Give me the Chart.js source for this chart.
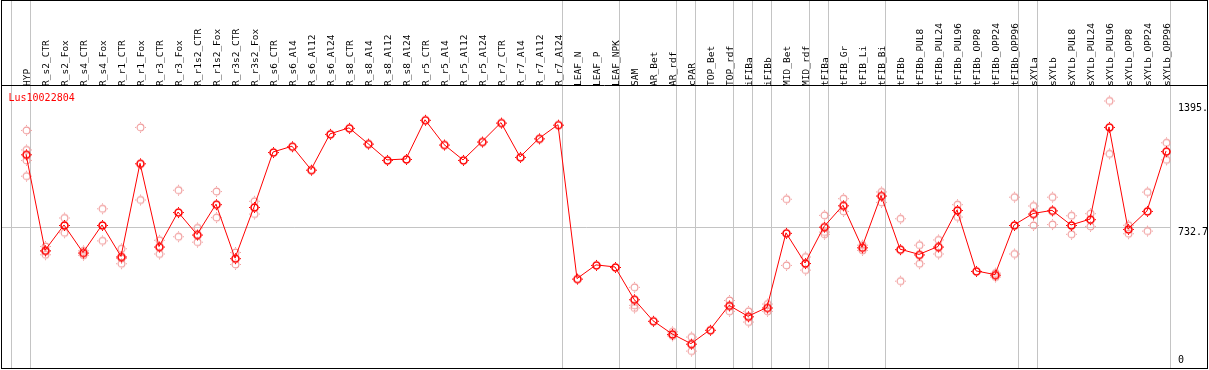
<!DOCTYPE html>
<html><head><meta charset="utf-8">
<script src="https://cdn.jsdelivr.net/npm/chart.js@4"></script>
<style>html,body{margin:0;padding:0;background:#fff}#wrap{width:1209px;height:370px;position:relative}</style>
</head><body><div id="wrap"><canvas id="c" width="1209" height="370"></canvas></div>
<script>
const _ = null;
const geneName = 'Lus10022804';
const categories = ['HYP','R_s2_CTR','R_s2_Fox','R_s4_CTR','R_s4_Fox','R_r1_CTR','R_r1_Fox','R_r3_CTR','R_r3_Fox','R_r1s2_CTR','R_r1s2_Fox','R_r3s2_CTR','R_r3s2_Fox','R_s6_CTR','R_s6_Al4','R_s6_Al12','R_s6_Al24','R_s8_CTR','R_s8_Al4','R_s8_Al12','R_s8_Al24','R_r5_CTR','R_r5_Al4','R_r5_Al12','R_r5_Al24','R_r7_CTR','R_r7_Al4','R_r7_Al12','R_r7_Al24','LEAF_N','LEAF_P','LEAF_NPK','SAM','AR_Bet','AR_rdf','cPAR','TOP_Bet','TOP_rdf','iFIBa','iFIBb','MID_Bet','MID_rdf','tFIBa','tFIB_Gr','tFIB_Li','tFIB_Bi','tFIBb','tFIBb_PUL8','tFIBb_PUL24','tFIBb_PUL96','tFIBb_OPP8','tFIBb_OPP24','tFIBb_OPP96','sXYLa','sXYLb','sXYLb_PUL8','sXYLb_PUL24','sXYLb_PUL96','sXYLb_OPP8','sXYLb_OPP24','sXYLb_OPP96'];
const groupSizes = [1, 28, 3, 3, 1, 2, 1, 1, 2, 1, 3, 7, 1, 7];
const meanValues = [1124,612,747,600,747,579,1076,632,816,696,858,570,843,1136,1167,1042,1233,1265,1181,1094,1099,1308,1176,1094,1192,1293,1110,1209,1282,461,534,523,351,236,166,114,188,318,260,307,705,544,738,852,628,904,618,590,632,827,502,482,747,808,825,747,778,1270,726,822,1141];
const rep1 = [1254,635,787,612,836,623,1270,668,935,734,928,603,876,_,_,_,_,_,_,_,_,_,_,_,_,_,_,_,_,_,_,_,417,_,180,152,_,347,289,328,887,579,801,890,642,926,783,642,670,858,_,493,898,851,898,799,810,1411,748,925,1188];
const rep2 = [1150,610,708,588,665,571,883,595,687,658,789,539,808,_,_,_,_,_,_,_,_,_,_,_,_,_,_,_,_,_,_,_,321,_,158,77,_,289,232,289,534,509,712,822,614,870,450,543,595,792,_,472,595,747,752,700,742,1129,703,717,1097];
const rep3 = [1094,591,_,_,_,543,_,_,_,_,_,_,_,_,_,_,_,_,_,_,_,_,_,_,_,_,_,_,_,_,_,_,307,_,_,_,_,_,_,_,_,_,700,_,_,_,_,_,_,_,_,_,_,_,_,_,_,_,_,_,_];
const rep4 = [1010,_,_,_,_,_,_,_,_,_,_,_,_,_,_,_,_,_,_,_,_,_,_,_,_,_,_,_,_,_,_,_,_,_,_,_,_,_,_,_,_,_,_,_,_,_,_,_,_,_,_,_,_,_,_,_,_,_,_,_,_];
const yTickValues = [0, 732.7, 1395.4];
const yTickLabels = ['0', '732.7', '1395.'];
const gridValues = [732.7];

function makeMarker(color, lw, r) {
  const c = document.createElement('canvas');
  c.width = 14; c.height = 14;
  const g = c.getContext('2d');
  const cx = 7.5, cy = 7.5;
  g.strokeStyle = color;
  g.lineWidth = lw;
  g.beginPath(); g.arc(cx, cy, r, 0, Math.PI * 2); g.stroke();
  g.fillStyle = color;
  g.fillRect(7, cy - r - 2, 1, 1);
  g.fillRect(7, cy + r + 1, 1, 1);
  g.fillRect(cx - r - 2, 7, 1, 1);
  g.fillRect(cx + r + 1, 7, 1, 1);
  return c;
}
const meanMarker = makeMarker('#ff0000', 1.6, 3.5);
const repMarker = makeMarker('#f09a9a', 1.1, 3.4);

const MONO = '"DejaVu Sans Mono", "Liberation Mono", monospace';

const decor = {
  id: 'decor',
  beforeDraw(chart) {
    const ctx = chart.ctx, xs = chart.scales.x, ys = chart.scales.y;
    ctx.save();
    ctx.strokeStyle = '#c4c4c4';
    ctx.lineWidth = 1;
    let idx = -1; const bounds = [-1];
    groupSizes.forEach(s => { idx += s; bounds.push(idx); });
    let lastPx = 0;
    bounds.forEach(b => {
      const px = Math.round(xs.getPixelForValue(b) + 4) + 0.5;
      lastPx = px;
      ctx.beginPath(); ctx.moveTo(px, 0); ctx.lineTo(px, 369); ctx.stroke();
    });
    gridValues.forEach(v => {
      const py = Math.round(ys.getPixelForValue(v) - 0.5) + 0.5;
      ctx.beginPath(); ctx.moveTo(2, py); ctx.lineTo(lastPx, py); ctx.stroke();
    });
    ctx.restore();
  },
  afterDraw(chart) {
    const ctx = chart.ctx, ys = chart.scales.y, area = chart.chartArea;
    ctx.save();
    ctx.strokeStyle = '#000'; ctx.lineWidth = 1;
    ctx.strokeRect(1.5, 0.5, 1206, 368);
    ctx.beginPath(); ctx.moveTo(1.5, 85.5); ctx.lineTo(1207.5, 85.5); ctx.stroke();
    ctx.font = '10px ' + MONO;
    ctx.textBaseline = 'alphabetic';
    ctx.textAlign = 'left';
    ctx.fillStyle = '#ff0000';
    ctx.fillText(geneName, 8.5, 100.5);
    ctx.fillStyle = '#000';
    yTickValues.forEach((v, i) => {
      const py = ys.getPixelForValue(v);
      const base = (py + 10 > area.bottom) ? py - 2.5 : py + 7.5;
      ctx.fillText(yTickLabels[i], 1178, base);
    });
    ctx.restore();
  }
};

new Chart(document.getElementById('c'), {
  type: 'line',
  data: {
    labels: categories,
    datasets: [
      { label: 'mean', data: meanValues, borderColor: '#ff0000', borderWidth: 1, pointStyle: meanMarker, tension: 0, order: 0, fill: false },
      { label: 'rep1', data: rep1, showLine: false, pointStyle: repMarker, order: 1 },
      { label: 'rep2', data: rep2, showLine: false, pointStyle: repMarker, order: 1 },
      { label: 'rep3', data: rep3, showLine: false, pointStyle: repMarker, order: 1 },
      { label: 'rep4', data: rep4, showLine: false, pointStyle: repMarker, order: 1 }
    ]
  },
  options: {
    responsive: false,
    animation: false,
    devicePixelRatio: 1,
    spanGaps: false,
    layout: { padding: { top: 21, left: 26, right: 43, bottom: 1.5 } },
    plugins: { legend: { display: false }, tooltip: { enabled: false }, title: { display: false } },
    scales: {
      x: {
        type: 'category', position: 'top', offset: false,
        grid: { display: false, drawTicks: false }, border: { display: false },
        ticks: { autoSkip: false, minRotation: 90, maxRotation: 90, padding: 2, labelOffset: 12.5, color: '#000',
          font: { family: MONO, size: 9.5, lineHeight: 1.2 } }
      },
      y: { type: 'linear', min: 0, max: 1478, display: false }
    }
  },
  plugins: [decor]
});
</script>
</body></html>
